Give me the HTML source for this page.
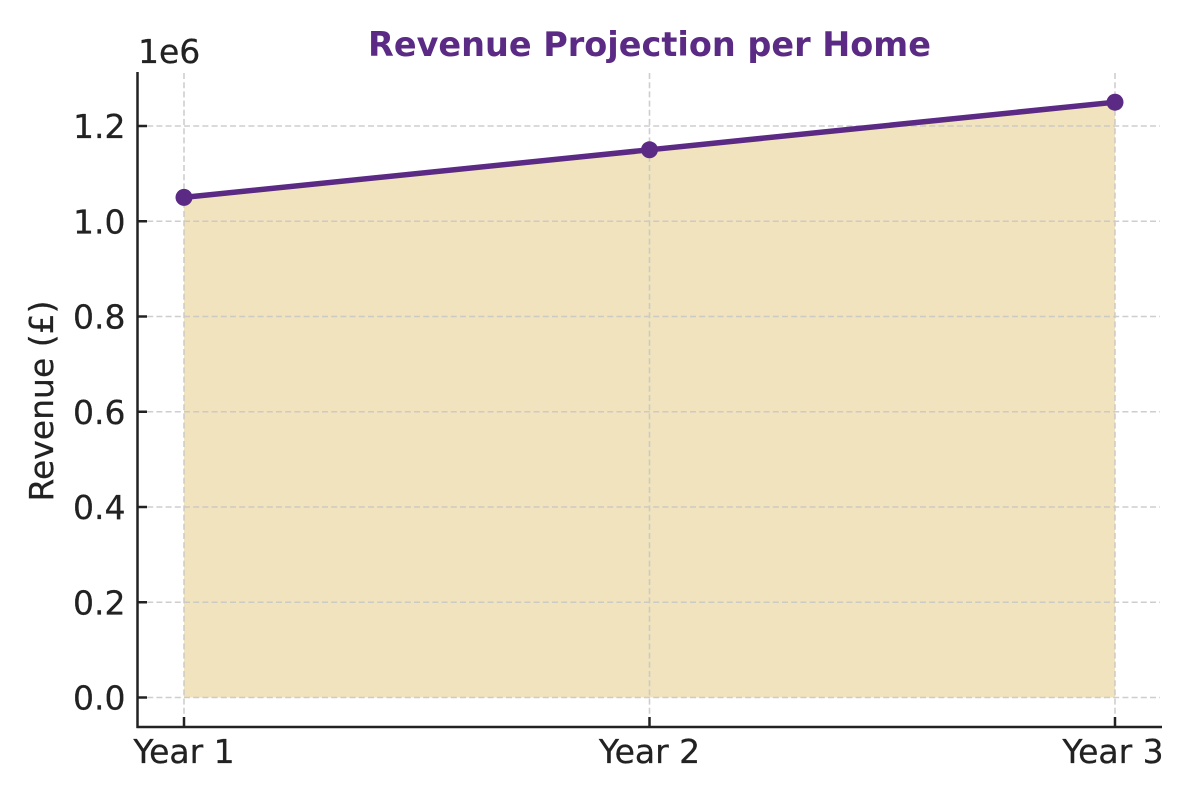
<!DOCTYPE html>
<html>
<head>
<meta charset="utf-8">
<style>
html,body{margin:0;padding:0;background:#fff;}
svg{display:block;}
text{font-family:"DejaVu Sans","Liberation Sans",sans-serif;}
</style>
</head>
<body>
<svg width="1200" height="800" viewBox="0 0 1200 800" xmlns="http://www.w3.org/2000/svg">
  <rect width="1200" height="800" fill="#ffffff"/>
  <!-- fill area -->
  <polygon points="184,197.4 649.5,149.8 1115,102.2 1115,697.5 184,697.5" fill="#F1E3BD"/>
  <!-- grid -->
  <g stroke="#c6c6c6" stroke-width="1.6" stroke-dasharray="6,3.2" fill="none" opacity="0.85">
    <line x1="138" y1="697.5" x2="1160" y2="697.5"/>
    <line x1="138" y1="602.25" x2="1160" y2="602.25"/>
    <line x1="138" y1="507" x2="1160" y2="507"/>
    <line x1="138" y1="411.75" x2="1160" y2="411.75"/>
    <line x1="138" y1="316.5" x2="1160" y2="316.5"/>
    <line x1="138" y1="221.25" x2="1160" y2="221.25"/>
    <line x1="138" y1="126" x2="1160" y2="126"/>
    <line x1="184" y1="73" x2="184" y2="727"/>
    <line x1="649.5" y1="73" x2="649.5" y2="727"/>
    <line x1="1115" y1="73" x2="1115" y2="727"/>
  </g>
  <!-- series line -->
  <polyline points="184,197.4 649.5,149.8 1115,102.2" fill="none" stroke="#5B2A84" stroke-width="5.5" stroke-linejoin="round" stroke-linecap="round"/>
  <g fill="#5B2A84">
    <circle cx="184" cy="197.4" r="8.5"/>
    <circle cx="649.5" cy="149.8" r="8.5"/>
    <circle cx="1115" cy="102.2" r="8.5"/>
  </g>
  <!-- spines -->
  <g stroke="#222" stroke-width="2.5" fill="none">
    <line x1="137.5" y1="72" x2="137.5" y2="728"/>
    <line x1="136.5" y1="727" x2="1162" y2="727"/>
  </g>
  <!-- ticks (inward) -->
  <g stroke="#222" stroke-width="2.5">
    <line x1="137" y1="697.5" x2="147" y2="697.5"/>
    <line x1="137" y1="602.25" x2="147" y2="602.25"/>
    <line x1="137" y1="507" x2="147" y2="507"/>
    <line x1="137" y1="411.75" x2="147" y2="411.75"/>
    <line x1="137" y1="316.5" x2="147" y2="316.5"/>
    <line x1="137" y1="221.25" x2="147" y2="221.25"/>
    <line x1="137" y1="126" x2="147" y2="126"/>
    <line x1="184" y1="727" x2="184" y2="717"/>
    <line x1="649.5" y1="727" x2="649.5" y2="717"/>
    <line x1="1115" y1="727" x2="1115" y2="717"/>
  </g>
  <!-- y tick labels -->
  <g fill="#222" stroke="#222" stroke-width="0.25" font-size="33" text-anchor="end">
    <text x="125.5" y="709.5">0.0</text>
    <text x="125.5" y="614.25">0.2</text>
    <text x="125.5" y="519">0.4</text>
    <text x="125.5" y="423.75">0.6</text>
    <text x="125.5" y="328.5">0.8</text>
    <text x="125.5" y="233.25">1.0</text>
    <text x="125.5" y="138">1.2</text>
  </g>
  <text x="138" y="63" font-size="33" fill="#222" stroke="#222" stroke-width="0.25">1e6</text>
  <!-- x tick labels -->
  <g fill="#222" stroke="#222" stroke-width="0.25" font-size="33" text-anchor="middle">
    <text x="184" y="763">Year 1</text>
    <text x="649.5" y="763">Year 2</text>
    <text x="1113" y="763">Year 3</text>
  </g>
  <!-- y label -->
  <text transform="translate(53,401) rotate(-90)" font-size="33" fill="#222" stroke="#222" stroke-width="0.25" text-anchor="middle">Revenue (£)</text>
  <!-- title -->
  <text x="649.5" y="56" font-size="33.5" font-weight="bold" fill="#5B2A84" text-anchor="middle">Revenue Projection per Home</text>
</svg>
</body>
</html>
